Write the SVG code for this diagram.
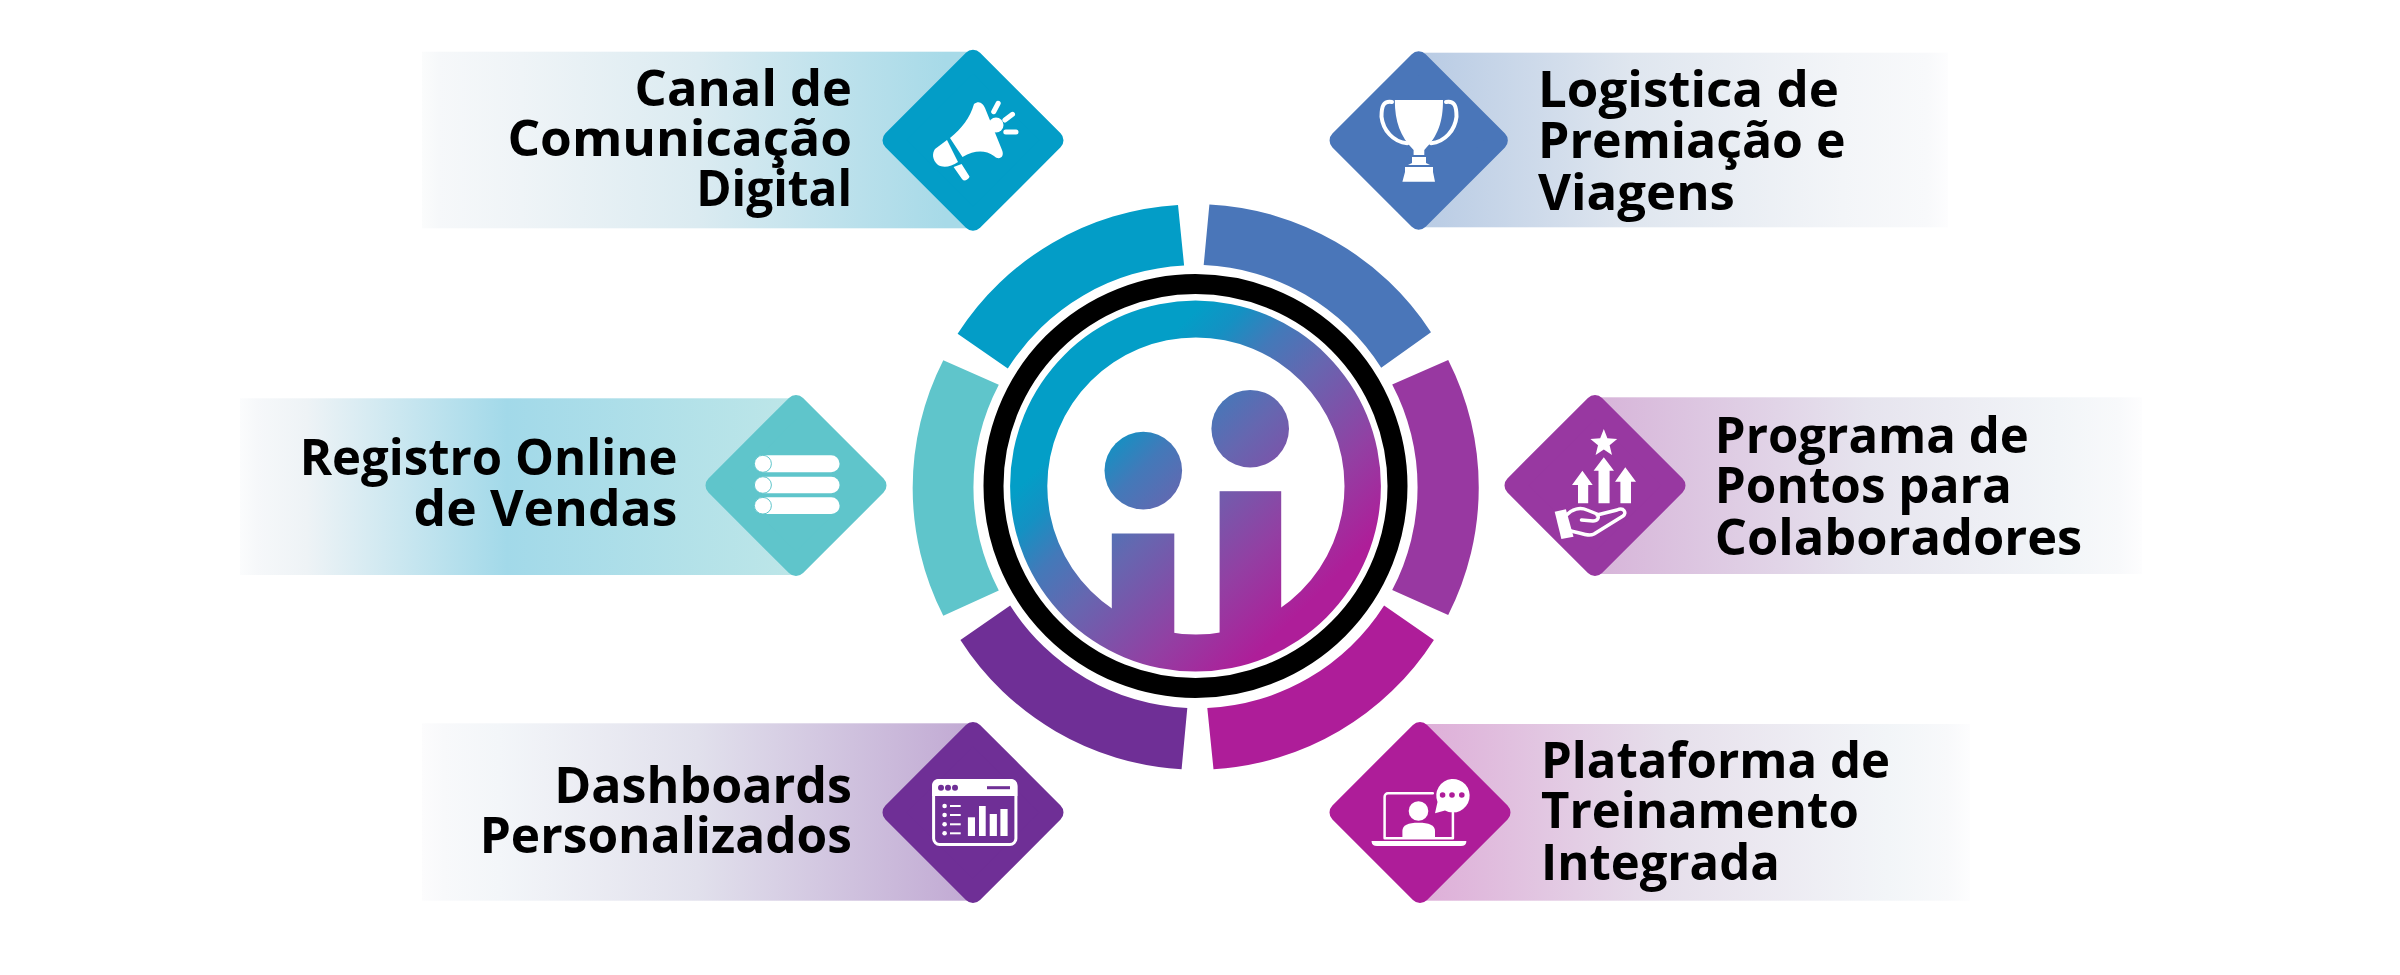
<svg xmlns="http://www.w3.org/2000/svg" width="2400" height="975" viewBox="0 0 2400 975">
<style>
.t{font-family:"Open Sans","Liberation Sans",sans-serif;font-weight:700;font-size:51px;fill:#000}
.e{text-anchor:end}
.d{stroke-width:20;stroke-linejoin:round}
.w{fill:#fff}
.s{fill:none;stroke:#fff;stroke-linecap:round;stroke-linejoin:round}
</style>
<defs>
<polygon id="dia" points="0,-80.5 80.5,0 0,80.5 -80.5,0"/>
<linearGradient id="gc" gradientUnits="userSpaceOnUse" x1="422" y1="0" x2="973" y2="0"><stop offset="0" stop-color="#fbfcfc"/><stop offset=".03" stop-color="#f6f8fa"/><stop offset=".18" stop-color="#eff4f7"/><stop offset=".5" stop-color="#dbebf1"/><stop offset=".95" stop-color="#a7dae8"/></linearGradient>
<linearGradient id="gb" gradientUnits="userSpaceOnUse" x1="1948" y1="0" x2="1419" y2="0"><stop offset="0" stop-color="#fdfdfe"/><stop offset=".04" stop-color="#f8f9fb"/><stop offset=".2" stop-color="#f3f5f8"/><stop offset=".6" stop-color="#dfe6ef"/><stop offset="1" stop-color="#b8cbe4"/></linearGradient>
<linearGradient id="gt" gradientUnits="userSpaceOnUse" x1="240" y1="0" x2="796" y2="0"><stop offset="0" stop-color="#fbfcfd"/><stop offset=".03" stop-color="#f6f8fa"/><stop offset=".12" stop-color="#eef3f6"/><stop offset=".48" stop-color="#a2d9e9"/><stop offset="1" stop-color="#bde6e8"/></linearGradient>
<linearGradient id="gp" gradientUnits="userSpaceOnUse" x1="2141" y1="0" x2="1595" y2="0"><stop offset="0" stop-color="#fdfdfe"/><stop offset=".04" stop-color="#f8f9fb"/><stop offset=".15" stop-color="#f2f5f8"/><stop offset=".5" stop-color="#e6e4ee"/><stop offset="1" stop-color="#d7b4d9"/></linearGradient>
<linearGradient id="gd" gradientUnits="userSpaceOnUse" x1="422" y1="0" x2="973" y2="0"><stop offset="0" stop-color="#fcfcfd"/><stop offset=".04" stop-color="#f8f9fb"/><stop offset=".14" stop-color="#f3f6f9"/><stop offset=".5" stop-color="#e1e0ec"/><stop offset="1" stop-color="#c1a9d3"/></linearGradient>
<linearGradient id="gm" gradientUnits="userSpaceOnUse" x1="1970" y1="0" x2="1420" y2="0"><stop offset="0" stop-color="#fdfdfe"/><stop offset=".04" stop-color="#f8f9fb"/><stop offset=".15" stop-color="#f2f5f8"/><stop offset=".55" stop-color="#e6dfeb"/><stop offset="1" stop-color="#deaed8"/></linearGradient>
<linearGradient id="logo" gradientUnits="userSpaceOnUse" x1="1050" y1="340" x2="1340" y2="630"><stop offset=".2" stop-color="#039ec7"/><stop offset=".28" stop-color="#1491c3"/><stop offset=".38" stop-color="#4379b9"/><stop offset=".5" stop-color="#6567b0"/><stop offset=".72" stop-color="#9240a3"/><stop offset=".9" stop-color="#ae1e99"/></linearGradient>
</defs>
<rect width="2400" height="975" fill="#fff"/>

<g id="ring-segments">
<path fill="#039dc7" d="M957.6 333.8A281.5 281.5 0 0 1 1178 204.9L1184.1 265.4A221 221 0 0 0 1007.8 368.6Z"/>
<path fill="#4a76b9" d="M1209.4 204.5A281.5 281.5 0 0 1 1431 332.2L1381.2 367.8A221 221 0 0 0 1203.7 265Z"/>
<path fill="#9838a1" d="M1448.2 359.9A281.5 281.5 0 0 1 1448.2 615L1392.2 590A221 221 0 0 0 1392.2 384.4Z"/>
<path fill="#ae1d99" d="M1433.9 639.9A281.5 281.5 0 0 1 1213.5 769.2L1207.3 707.9A221 221 0 0 0 1384.1 605.5Z"/>
<path fill="#6f2f96" d="M1181.6 769.2A281.5 281.5 0 0 1 960.4 639.9L1010.2 605.5A221 221 0 0 0 1187.3 707.9Z"/>
<path fill="#5fc5cb" d="M943.3 615.7A281.5 281.5 0 0 1 943.3 360.3L998.8 384.8A221 221 0 0 0 998.8 590.4Z"/>
</g>

<g id="hub">
<circle cx="1195.5" cy="486" r="202" fill="none" stroke="#000" stroke-width="20"/>
<g fill="url(#logo)">
<path fill-rule="evenodd" d="M1010.1 486a185.4 185.4 0 1 0 370.8 0a185.4 185.4 0 1 0 -370.8 0ZM1047.3 486a148.6 148.6 0 1 0 297.2 0a148.6 148.6 0 1 0 -297.2 0Z"/>
<circle cx="1143.3" cy="470.6" r="38.8"/>
<circle cx="1250.2" cy="428.7" r="38.8"/>
<rect x="1111.8" y="533.5" width="62.5" height="106"/>
<rect x="1219.6" y="491.2" width="61.6" height="148"/>
</g>
</g>

<g id="node-canal">
<rect x="422" y="51.7" width="551" height="176.6" fill="url(#gc)"/>
<use href="#dia" x="973" y="140.3" class="d" fill="#039dc7" stroke="#039dc7"/>
<path class="w" d="M974 104C979 100 983 103 985 108L1002 150C1005 157 999 161 994 156C985 150 975 150 962.5 157L950 138C962 128 970 118 974 104Z"/>
<circle class="w" cx="996" cy="125" r="7.5"/>
<path class="w" d="M947 140L958 162C951 167 943 168 938 165C932 160 932 153 935 149Z"/>
<path class="w" d="M953.6 167L961.6 164L969.5 176.5Q969 179 965 180.5Q963 180.5 962 179Z"/>
<path class="s" stroke-width="5" d="M998.2 103.3L993.7 111.7M1012.5 114.3L1004.9 120M1016 132H1005.8"/>
<text class="t e" x="852" y="106" textLength="217.4" lengthAdjust="spacingAndGlyphs">Canal de</text>
<text class="t e" x="852" y="156" textLength="344.6" lengthAdjust="spacingAndGlyphs">Comunicação</text>
<text class="t e" x="852" y="206" textLength="155.8" lengthAdjust="spacingAndGlyphs">Digital</text>
</g>

<g id="node-logistica">
<rect x="1419" y="52.7" width="529" height="174.6" fill="url(#gb)"/>
<use href="#dia" transform="translate(1418.7 140.5) scale(.985)" class="d" fill="#4a76b9" stroke="#4a76b9"/>
<path class="w" d="M1394.8 100H1443C1443 122 1438 136 1424.3 150V155H1413.6V150C1400 136 1395 122 1394.8 100Z"/>
<path class="s" stroke-width="4" d="M1392 102C1383.5 100.5 1381.5 106 1381.5 116.7C1383 130 1393 142 1407.3 143.3M1446 102C1454.5 100.5 1456.5 106 1456.5 116.7C1455 130 1445 142 1431 143.3"/>
<path class="w" d="M1412 157H1426V163L1430 165H1408L1412 163Z"/>
<path class="w" d="M1405 167H1433V172L1435 181.7H1402.4L1405 172Z"/>
<text class="t" x="1538" y="106.7" textLength="300.9" lengthAdjust="spacingAndGlyphs">Logistica de</text>
<text class="t" x="1538" y="158" textLength="307.6" lengthAdjust="spacingAndGlyphs">Premiação e</text>
<text class="t" x="1538" y="210" textLength="196.9" lengthAdjust="spacingAndGlyphs">Viagens</text>
</g>

<g id="node-registro">
<rect x="240" y="398.3" width="556" height="176.7" fill="url(#gt)"/>
<use href="#dia" x="796" y="485.5" class="d" fill="#5fc5cb" stroke="#5fc5cb"/>
<rect class="w" x="754.4" y="455.3" width="85.2" height="17" rx="8.5"/>
<rect class="w" x="754.4" y="476.7" width="85.2" height="16.6" rx="8.3"/>
<rect class="w" x="754.4" y="497.3" width="85.2" height="16.7" rx="8.3"/>
<g class="w" stroke="#5fc5cb" stroke-width="1"><ellipse cx="762.9" cy="463.8" rx="8.5" ry="8.5"/><ellipse cx="762.9" cy="485" rx="8.5" ry="8.3"/><ellipse cx="762.9" cy="505.7" rx="8.5" ry="8.3"/></g>
<text class="t e" x="677.4" y="475" textLength="377.7" lengthAdjust="spacingAndGlyphs">Registro Online</text>
<text class="t e" x="677.4" y="525.7" textLength="263.8" lengthAdjust="spacingAndGlyphs">de Vendas</text>
</g>

<g id="node-programa">
<rect x="1595" y="397.3" width="547" height="176.7" fill="url(#gp)"/>
<use href="#dia" x="1595" y="485.5" class="d" fill="#9838a1" stroke="#9838a1"/>
<polygon class="w" points="1603.8,429 1607.4,438.3 1617.2,439 1609.6,445.2 1612,455 1603.8,449.6 1595.6,455 1598,445.2 1590.4,439 1600.2,438.3"/>
<path class="w" d="M1603.8 457.3L1614 470.7H1609.6V503.3H1598.5V470.7H1593.6Z"/>
<path class="w" d="M1582.4 470.7L1592.7 485H1588.2V503.3H1578V485H1572Z"/>
<path class="w" d="M1625.3 467.3L1636 481.7H1631V503.3H1620.4V481.7H1615Z"/>
<polygon class="w" points="1554.7,511.7 1565.9,509.3 1573.5,536.7 1561.4,539"/>
<path class="s" stroke-width="3.5" d="M1566.5 515C1572 509 1580 507 1587 510L1597 514C1600 518 1597 521 1593 521L1581.5 520M1597 515L1617 510C1624 507 1627 513 1623 516L1594 534C1588 537 1582 533 1571 531"/>
<text class="t" x="1714.8" y="452.7" textLength="314" lengthAdjust="spacingAndGlyphs">Programa de</text>
<text class="t" x="1714.8" y="503.3" textLength="297" lengthAdjust="spacingAndGlyphs">Pontos para</text>
<text class="t" x="1714.8" y="555" textLength="367.4" lengthAdjust="spacingAndGlyphs">Colaboradores</text>
</g>

<g id="node-dashboards">
<rect x="422" y="723.3" width="551" height="177.4" fill="url(#gd)"/>
<use href="#dia" x="973" y="812.5" class="d" fill="#6f2f96" stroke="#6f2f96"/>
<rect x="933.6" y="780.5" width="82.3" height="64" rx="6" fill="none" stroke="#fff" stroke-width="3"/>
<path class="w" d="M932.1 796V785a6 6 0 0 1 6-6H1011.4a6 6 0 0 1 6 6V796Z"/>
<g fill="#6f2f96"><circle cx="941" cy="787.7" r="3"/><circle cx="948" cy="787.7" r="3"/><circle cx="955" cy="787.7" r="3"/><rect x="987" y="786.2" width="23" height="3"/></g>
<g class="w"><circle cx="944.6" cy="806" r="2.3"/><circle cx="944.6" cy="815" r="2.3"/><circle cx="944.6" cy="824.3" r="2.3"/><circle cx="944.6" cy="833.3" r="2.3"/>
<rect x="950" y="805" width="10.7" height="2"/><rect x="950" y="814" width="10.7" height="2"/><rect x="950" y="823.3" width="10.7" height="2"/><rect x="950" y="832.3" width="10.7" height="2"/>
<rect x="967.9" y="817.3" width="7.1" height="18.7"/><rect x="979" y="806" width="6.7" height="30"/><rect x="989.7" y="814" width="7.2" height="22"/><rect x="1000.4" y="809" width="7.2" height="27"/></g>
<text class="t e" x="852" y="803.3" textLength="297.8" lengthAdjust="spacingAndGlyphs">Dashboards</text>
<text class="t e" x="852" y="852.7" textLength="372.3" lengthAdjust="spacingAndGlyphs">Personalizados</text>
</g>

<g id="node-plataforma">
<rect x="1420" y="724" width="550" height="176.7" fill="url(#gm)"/>
<use href="#dia" x="1420" y="812.5" class="d" fill="#ae1d99" stroke="#ae1d99"/>
<path class="s" stroke-width="2.5" d="M1432.8 793.3H1388A3.4 3.4 0 0 0 1384.6 796.7V838.3H1452.9V813"/>
<path class="w" d="M1371.6 841H1466.3V842Q1466 846 1461 846H1377Q1372 846 1371.6 842Z"/>
<circle class="w" cx="1418.5" cy="811" r="9.8"/>
<path class="w" d="M1402.4 837.3V831C1402.4 825 1408 822.7 1418.5 822.7C1429 822.7 1435 825 1435 831V837.3Z"/>
<path class="w" d="M1435 813.3L1437.5 802A16.7 16.7 0 1 1 1445 810.4Z"/>
<g fill="#ae1d99"><circle cx="1442.6" cy="795" r="2.8"/><circle cx="1452" cy="795" r="2.8"/><circle cx="1461.8" cy="795" r="2.8"/></g>
<text class="t" x="1541" y="777.7" textLength="349" lengthAdjust="spacingAndGlyphs">Plataforma de</text>
<text class="t" x="1541" y="828.3" textLength="317.8" lengthAdjust="spacingAndGlyphs">Treinamento</text>
<text class="t" x="1541" y="880" textLength="238.8" lengthAdjust="spacingAndGlyphs">Integrada</text>
</g>
</svg>
